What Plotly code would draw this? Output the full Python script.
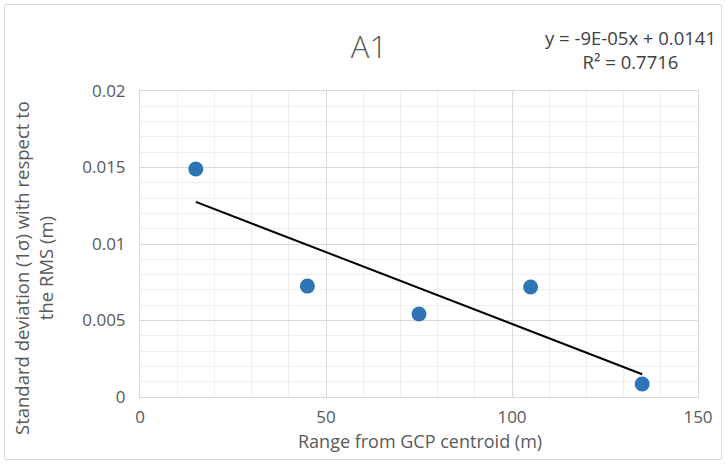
import numpy as np
import plotly.graph_objects as go

# Range from GCP centroid (m) and standard deviation (m)
ranges = [15, 45, 75, 105, 135]
std_dev = [0.0149, 0.00725, 0.00542, 0.00719, 0.00085]

x_ticks = [0, 50, 100, 150]
y_ticks = [0, 0.005, 0.01, 0.015, 0.02]
y_tick_labels = ["0", "0.005", "0.01", "0.015", "0.02"]

x_title = "Range from GCP centroid (m)"
y_title = "Standard deviation (1σ) with respect to<br>the RMS (m)"
equation_text = "y = -9E-05x + 0.0141<br>R² = 0.7716"

# Linear least-squares trendline
slope, intercept = np.polyfit(ranges, std_dev, 1)
trend_x = [min(ranges), max(ranges)]
trend_y = [slope * v + intercept for v in trend_x]

FONT = "Open Sans"
GREY = "#595959"

fig = go.Figure()

fig.add_trace(go.Scatter(
    x=trend_x, y=trend_y, mode="lines",
    line=dict(color="black", width=2), hoverinfo="skip", showlegend=False,
))
fig.add_trace(go.Scatter(
    x=ranges, y=std_dev, mode="markers",
    marker=dict(color="#2e75b6", size=15), showlegend=False,
))

# plot-area geometry in pixels
W, H = 726, 464
L, R, T, B = 140, 28, 91, 67
pw, ph = W - L - R, H - T - B

def px_to_paper_x(px):
    return (px - L) / pw

def px_to_paper_y(py):
    return (H - B - py) / ph

fig.update_layout(
    width=W, height=H,
    margin=dict(l=L, r=R, t=T, b=B),
    paper_bgcolor="white", plot_bgcolor="white",
    font=dict(family=FONT, color=GREY),
    title=dict(text="A1", x=369 / W, xanchor="center",
               y=1 - 47 / H, yanchor="middle",
               font=dict(size=31, color=GREY, family=FONT, weight=300)),
    xaxis=dict(
        range=[0, 150], tickvals=x_ticks, ticks="", showline=True,
        linecolor="#d9d9d9", linewidth=1, mirror=True,
        showgrid=True, gridcolor="#d9d9d9", gridwidth=1,
        minor=dict(dtick=10, showgrid=True, gridcolor="#efefef", gridwidth=1),
        zeroline=False, tickfont=dict(size=17, color=GREY, family=FONT),
        ticklabelstandoff=5,
    ),
    yaxis=dict(
        range=[0, 0.02], tickvals=y_ticks, ticktext=y_tick_labels, ticks="",
        showline=True, linecolor="#d9d9d9", linewidth=1, mirror=True,
        showgrid=True, gridcolor="#d9d9d9", gridwidth=1,
        minor=dict(dtick=0.001, showgrid=True, gridcolor="#efefef", gridwidth=1),
        zeroline=False, tickfont=dict(size=17, color=GREY, family=FONT),
        ticklabelstandoff=10,
    ),
    annotations=[
        dict(text=equation_text, xref="paper", yref="paper",
             x=px_to_paper_x(630), y=px_to_paper_y(49), xanchor="center", yanchor="middle",
             showarrow=False, align="center",
             font=dict(size=18.5, color="#404040", family=FONT)),
        dict(text=x_title, xref="paper", yref="paper",
             x=px_to_paper_x(420), y=px_to_paper_y(441), xanchor="center", yanchor="middle",
             showarrow=False, font=dict(size=18, color=GREY, family=FONT)),
        dict(text=y_title, xref="paper", yref="paper", textangle=-90,
             x=px_to_paper_x(33), y=px_to_paper_y(268), xanchor="center", yanchor="middle",
             showarrow=False, align="center",
             font=dict(size=18.5, color=GREY, family=FONT)),
    ],
    shapes=[dict(
        type="rect", xref="paper", yref="paper",
        x0=px_to_paper_x(4.5), x1=px_to_paper_x(721.5),
        y0=px_to_paper_y(459.5), y1=px_to_paper_y(4.5),
        line=dict(color="#d9d9d9", width=1), fillcolor="rgba(0,0,0,0)", layer="below",
    )],
)

fig.write_html("out.html")
